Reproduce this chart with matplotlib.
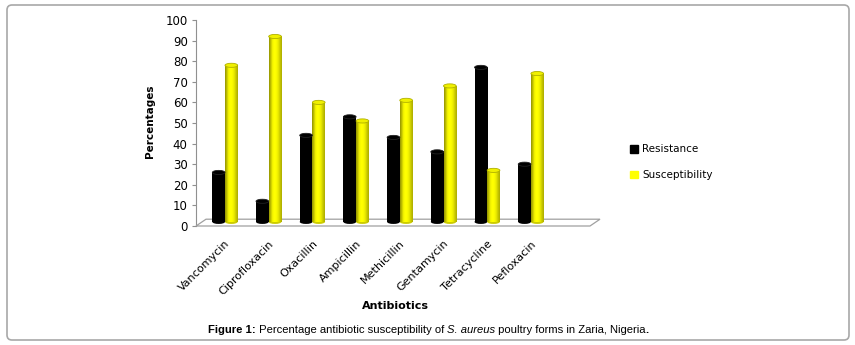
import numpy as np
import matplotlib.pyplot as plt
from matplotlib.patches import Ellipse, Polygon, FancyBboxPatch, Patch
from matplotlib.colors import to_rgb
from matplotlib.transforms import IdentityTransform

plt.rcParams['font.family'] = ['DejaVu Sans']

antibiotics = ['Vancomycin', 'Ciprofloxacin', 'Oxacillin', 'Ampicillin',
               'Methicillin', 'Gentamycin', 'Tetracycline', 'Pefloxacin']
resistance = [24, 10, 42, 51, 41, 34, 75, 28]
susceptibility = [76, 90, 58, 49, 59, 66, 25, 72]

W, H = 855, 345
fig = plt.figure(figsize=(W / 100, H / 100), dpi=100)

# axes box in pixel terms (left, top, right, bottom)
px_l, px_t, px_r, px_b = 196, 20, 600, 226
ax = fig.add_axes([px_l / W, 1 - px_b / H, (px_r - px_l) / W, (px_b - px_t) / H])

step = 43.7  # pixels between categories
c0 = 225
ax.set_xlim((px_l - c0) / step, (px_r - c0) / step)
ax.set_ylim(0, 100)

x = np.arange(len(antibiotics))
bw = 0.29
base = 2.0  # bars stand on the back of the floor


def shade(col, k):
    r, g, b = to_rgb(col)
    return (r * k, g * k, b * k)


def cylinder(xc, val, col, profile, cap, rim):
    ax.bar(xc, val, bw, bottom=base, color=col, zorder=2)
    # cylinder shading as a horizontal gradient
    img = np.array([[shade(col, k) for k in profile]])
    ax.imshow(img, extent=(xc - bw / 2, xc + bw / 2, base, base + val),
              aspect='auto', zorder=3, interpolation='bilinear')
    ax.add_patch(Ellipse((xc, base + val), bw, 2.0, facecolor=cap,
                         edgecolor=rim, lw=0.6, zorder=4))
    ax.add_patch(Ellipse((xc, base), bw, 2.0, facecolor=shade(col, 0.8),
                         edgecolor='none', zorder=1))


yel_profile = [0.62, 0.8, 0.95, 1.0, 1.0, 0.97, 0.9, 0.8, 0.7]
blk_profile = [1, 1, 1, 1, 1, 1, 1, 1, 1]
for i in range(len(antibiotics)):
    cylinder(x[i] - bw / 2, resistance[i], '#000000', blk_profile, '#000000', '#222222')
    cylinder(x[i] + bw / 2, susceptibility[i], '#ffff00', yel_profile, '#f0f000', '#b0b000')

# 3D-like floor
xf0, xf1 = ax.get_xlim()
back_l = (206 - c0) / step
front_r = (590 - c0) / step
floor = Polygon([(xf0, 0), (front_r, 0), (xf1, 3.3), (back_l, 3.3)], closed=True,
                facecolor='white', edgecolor='#a0a0a0', lw=0.9, zorder=0.5, clip_on=False)
ax.add_patch(floor)

for s in ['top', 'right', 'bottom']:
    ax.spines[s].set_visible(False)
ax.spines['left'].set_color('#909090')
ax.spines['left'].set_zorder(0.4)
ax.set_yticks(np.arange(0, 101, 10))
ax.tick_params(axis='y', length=3, color='#909090', labelsize=8.5, pad=3)
ax.set_xticks(x)
ax.set_xticklabels(antibiotics, rotation=45, ha='right', va='top',
                   rotation_mode='anchor', fontsize=8)
ax.tick_params(axis='x', length=0, pad=9)
ax.set_ylabel('Percentages', fontsize=7.5, fontweight='bold', labelpad=3)
ax.set_xlabel('Antibiotics', fontsize=8, fontweight='bold')
ax.xaxis.set_label_coords((395 - px_l) / (px_r - px_l), -(301 - px_b) / (px_b - px_t))
ax.yaxis.set_label_coords(-(px_l - 155) / (px_r - px_l), (px_b - 121) / (px_b - px_t))

# legend
handles = [Patch(color='#000000'), Patch(color='#ffff00')]
fig.legend(handles, ['Resistance', 'Susceptibility'], loc='upper left',
           bbox_to_anchor=(621 / W, 1 - 135 / H), frameon=False, fontsize=7.5,
           handlelength=0.75, handleheight=0.75, handletextpad=0.4, labelspacing=1.5)

# caption with mixed styles
cap_y = 1 - 333 / H
t = fig.text(208 / W, cap_y, 'Figure 1:', fontsize=8.1, fontweight='bold',
             family='Liberation Sans', va='baseline')
pieces = [(' Percentage antibiotic susceptibility of ', 'normal', 'normal'),
          ('S. aureus', 'normal', 'italic'),
          (' poultry forms in Zaria, Nigeria', 'normal', 'normal'),
          ('.', 'bold', 'normal')]
for txt, wt, st in pieces:
    t = ax.annotate(txt, xy=(1, 0), xycoords=t, va='bottom', ha='left',
                    fontsize=8.1, fontweight=wt, style=st, family='Liberation Sans',
                    annotation_clip=False)

# rounded border around the whole figure
border = FancyBboxPatch((7, H - 340), 842, 335, boxstyle='round,pad=0,rounding_size=5',
                        transform=IdentityTransform(), facecolor='none',
                        edgecolor='#a8a8a8', lw=1.2)
fig.add_artist(border)

fig.savefig('out.png', dpi=100)
